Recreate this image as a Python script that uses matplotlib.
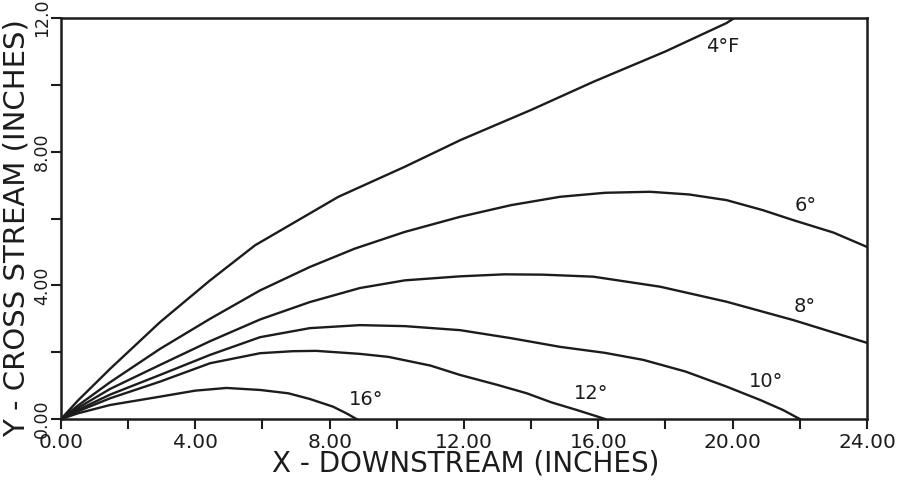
import matplotlib.pyplot as plt

# trajectories, x downstream vs y cross stream (inches)
x_4 = [0, 0.5, 1.46, 2.95, 4.44, 5.78, 8.26, 10.24, 11.9, 14.0, 15.85, 18.0, 19.82, 20.05]
y_4 = [0, 0.55, 1.5, 2.9, 4.15, 5.2, 6.65, 7.55, 8.35, 9.25, 10.09, 11.0, 11.85, 12.0]

x_6 = [0, 0.5, 1.46, 2.95, 4.44, 5.93, 7.41, 8.75, 10.24, 11.88, 13.4, 14.86, 16.2,
       17.54, 18.7, 19.82, 20.9, 21.81, 23.0, 24.0]
y_6 = [0, 0.4, 1.1, 2.1, 3.0, 3.85, 4.55, 5.1, 5.6, 6.05, 6.4, 6.65, 6.77,
       6.8, 6.72, 6.55, 6.25, 5.95, 5.58, 5.15]

x_8 = [0, 0.5, 1.46, 2.95, 4.44, 5.93, 7.41, 8.9, 10.24, 11.88, 13.2, 14.36, 15.85,
       17.84, 19.82, 21.81, 24.0]
y_8 = [0, 0.33, 0.9, 1.62, 2.33, 2.98, 3.5, 3.92, 4.15, 4.27, 4.33, 4.32, 4.26,
       3.96, 3.51, 2.96, 2.28]

x_10 = [0, 0.5, 1.46, 2.95, 4.44, 5.93, 7.41, 8.9, 10.24, 11.88, 13.4, 14.86, 16.2,
        17.34, 18.6, 19.82, 20.82, 21.5, 22.0]
y_10 = [0, 0.27, 0.73, 1.32, 1.92, 2.45, 2.72, 2.81, 2.78, 2.66, 2.42, 2.16, 1.98,
        1.77, 1.42, 0.97, 0.57, 0.27, 0.0]

x_12 = [0, 0.5, 1.46, 2.95, 4.44, 5.93, 6.9, 7.6, 8.9, 9.75, 11.0, 11.88, 13.0,
        13.87, 14.6, 15.36, 16.05, 16.2]
y_12 = [0, 0.23, 0.62, 1.12, 1.67, 1.97, 2.03, 2.04, 1.95, 1.86, 1.6, 1.32, 1.02,
        0.77, 0.5, 0.27, 0.05, 0.0]

x_16 = [0, 0.5, 1.46, 2.95, 4.0, 4.93, 5.93, 6.77, 7.41, 8.1, 8.5, 8.8]
y_16 = [0, 0.17, 0.42, 0.67, 0.85, 0.93, 0.87, 0.77, 0.6, 0.37, 0.17, 0.0]

curve_labels = ['4\u00b0F', '6\u00b0', '8\u00b0', '10\u00b0', '12\u00b0', '16\u00b0']
label_x = [19.71, 22.16, 22.13, 21.0, 15.78, 9.08]
label_y = [11.16, 6.40, 3.38, 1.11, 0.75, 0.57]

x_ticks = [0, 2, 4, 6, 8, 10, 12, 14, 16, 18, 20, 22, 24]
x_tick_labels = ['0.00', '', '4.00', '', '8.00', '', '12.00', '', '16.00', '', '20.00', '', '24.00']
y_ticks = [0, 2, 4, 6, 8, 10, 12]
y_tick_labels = ['0.00', '', '4.00', '', '8.00', '', '12.0']

ink = '#1c1c1c'

fig = plt.figure(figsize=(9.05, 4.8), dpi=100)
ax = fig.add_axes([0.0674, 0.127, 0.8906, 0.8355])

for xs, ys in [(x_4, y_4), (x_6, y_6), (x_8, y_8), (x_10, y_10), (x_12, y_12), (x_16, y_16)]:
    ax.plot(xs, ys, color=ink, lw=1.7, solid_joinstyle='round')

for text, lx, ly in zip(curve_labels, label_x, label_y):
    ax.text(lx, ly, text, fontsize=14, color=ink, ha='center', va='center')

ax.set_xlim(0, 24)
ax.set_ylim(0, 12)
ax.set_xticks(x_ticks)
ax.set_xticklabels(x_tick_labels, fontsize=14.5, color=ink)
ax.set_yticks(y_ticks)
ax.set_yticklabels(y_tick_labels, fontsize=12.5, color=ink, rotation=90, va='center')
ax.tick_params(axis='x', direction='out', length=7, width=1.5, color=ink, pad=3)
ax.tick_params(axis='y', direction='out', length=7, width=1.5, color=ink, pad=0)
for spine in ax.spines.values():
    spine.set_linewidth(1.8)
    spine.set_color(ink)

ax.set_xlabel('X - DOWNSTREAM (INCHES)', fontsize=20, color=ink, va='center')
ax.xaxis.set_label_coords(0.502, -0.112)
ax.set_ylabel('Y - CROSS STREAM (INCHES)', fontsize=21, color=ink, va='center')
ax.yaxis.set_label_coords(-0.055, 0.476)

fig.savefig('out.png', dpi=100)
